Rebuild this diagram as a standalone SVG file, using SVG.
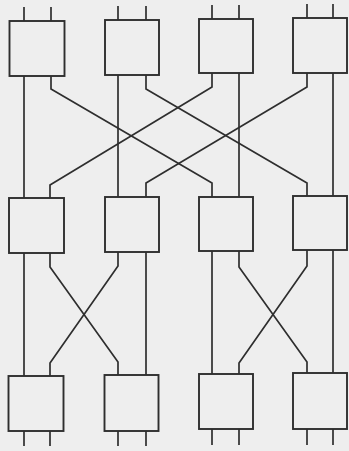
<svg xmlns="http://www.w3.org/2000/svg" width="349" height="451" viewBox="0 0 349 451">
<style>
.box{fill:#eeeeee;stroke:#2e2e2e;stroke-width:1.9}
.wire{fill:none;stroke:#2e2e2e;stroke-width:1.7;stroke-linejoin:miter}
</style>
<rect x="0" y="0" width="349" height="451" fill="#eeeeee"/>
<g id="connectors" class="wire">
<path d="M24 7V21M51 7V21M118 6V20M146 6V20M212 5V19M239 5V19M307 4V18M333 4V18"/>
<path d="M24 76V198"/>
<path d="M51 76V89L212 183V197"/>
<path d="M118 75V197"/>
<path d="M146 75V89L307 183V196"/>
<path d="M212 73V87L50 185V198"/>
<path d="M239 73V197"/>
<path d="M307 73V87L146 183V197"/>
<path d="M333 73V196"/>
<path d="M24 253V376"/>
<path d="M50 253V267L118 362V375"/>
<path d="M118 252V266L50 363V376"/>
<path d="M146 252V375"/>
<path d="M212 251V374"/>
<path d="M239 251V267L307 362V373"/>
<path d="M307 250V266L239 363V374"/>
<path d="M333 250V373"/>
<path d="M24 431V446M50 431V446M118 431V446M146 431V446M212 429V445M239 429V445M307 429V445M333 429V445"/>
</g>
<g id="s1n1"><rect class="box" x="9.5" y="21" width="55" height="55"/></g>
<g id="s1n2"><rect class="box" x="105" y="20" width="54" height="55"/></g>
<g id="s1n3"><rect class="box" x="199" y="19" width="54" height="54"/></g>
<g id="s1n4"><rect class="box" x="293" y="18" width="54" height="55"/></g>
<g id="s2n1"><rect class="box" x="9" y="198" width="55" height="55"/></g>
<g id="s2n2"><rect class="box" x="105" y="197" width="54" height="55"/></g>
<g id="s2n3"><rect class="box" x="199" y="197" width="54" height="54"/></g>
<g id="s2n4"><rect class="box" x="293" y="196" width="54" height="54"/></g>
<g id="s3n1"><rect class="box" x="8.5" y="376" width="55" height="55"/></g>
<g id="s3n2"><rect class="box" x="104.5" y="375" width="54" height="56"/></g>
<g id="s3n3"><rect class="box" x="199" y="374" width="54" height="55"/></g>
<g id="s3n4"><rect class="box" x="293" y="373" width="54" height="56"/></g>
</svg>
